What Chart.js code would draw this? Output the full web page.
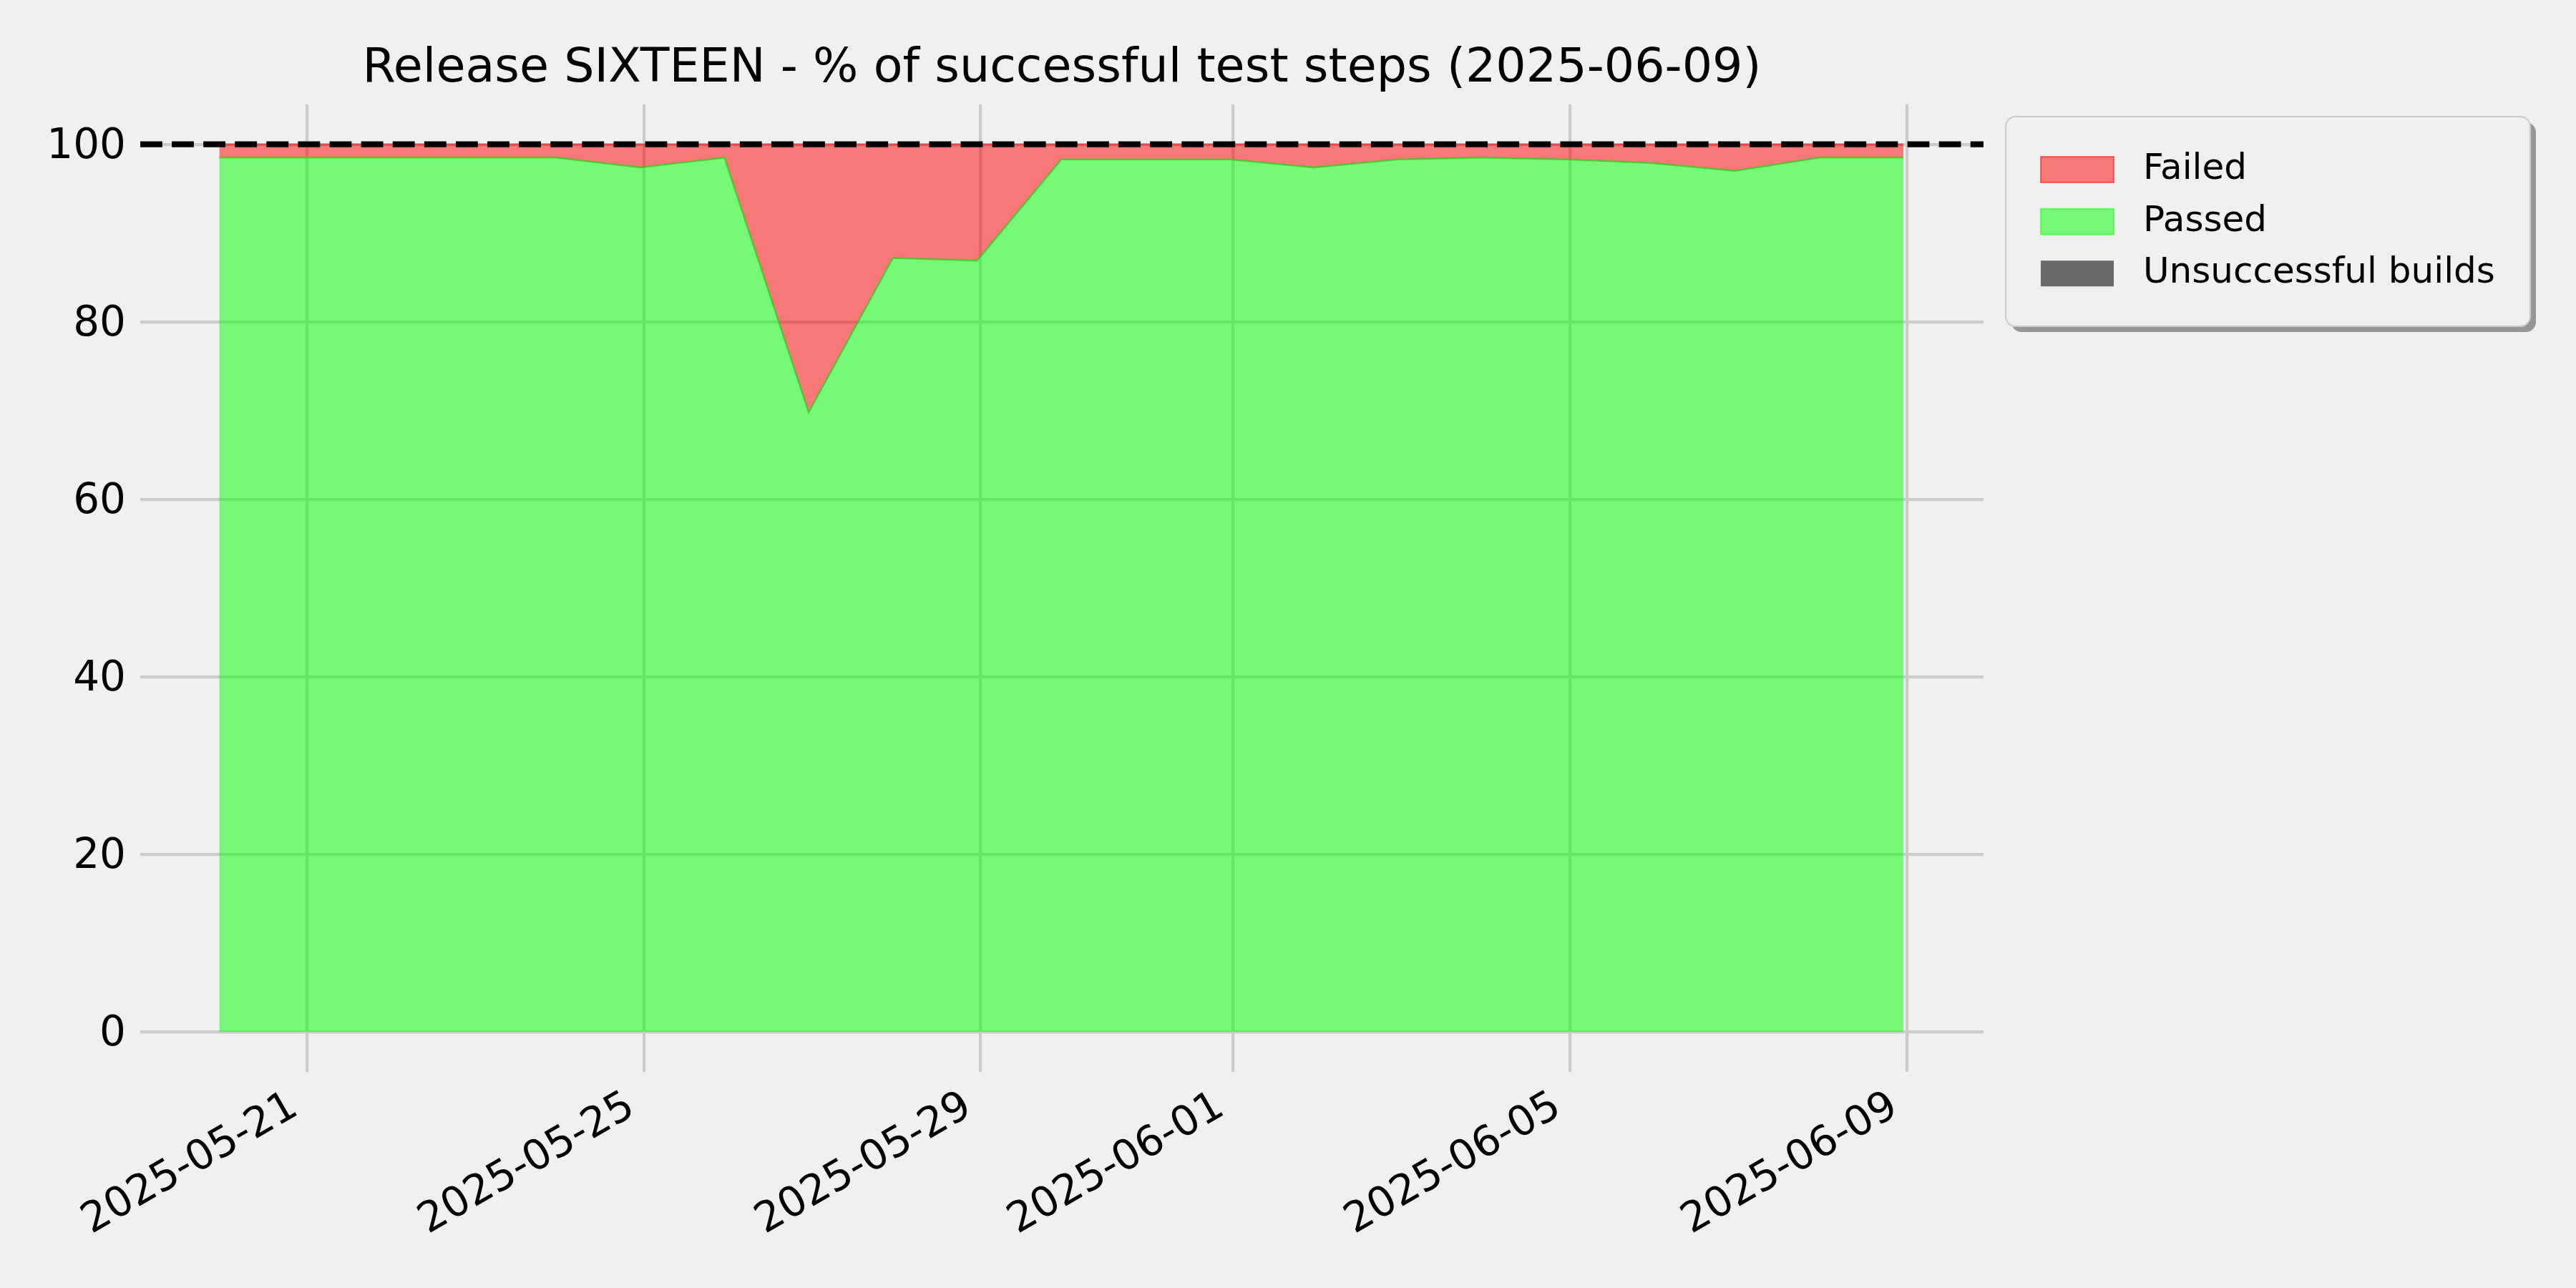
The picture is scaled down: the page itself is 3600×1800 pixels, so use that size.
<!DOCTYPE html>
<html>
<head>
<meta charset="utf-8">
<script src="https://cdn.jsdelivr.net/npm/chart.js@4.4.1/dist/chart.umd.min.js"></script>
<style>
  html, body { margin: 0; padding: 0; background: #f0f0f0; }
  canvas { display: block; }
</style>
</head>
<body>
<canvas id="c" width="3600" height="1800"></canvas>
<script>
// ---------------- data ----------------
const chartTitle = 'Release SIXTEEN - % of successful test steps (2025-06-09)';
// nightly runs (timestamps: points sit just before midnight)
const dates = [
  '2025-05-19T23:00', '2025-05-20T23:00', '2025-05-21T23:00', '2025-05-22T23:00',
  '2025-05-23T23:00', '2025-05-24T23:00', '2025-05-25T23:00', '2025-05-26T23:00',
  '2025-05-27T23:00', '2025-05-28T23:00', '2025-05-29T23:00', '2025-05-30T23:00',
  '2025-05-31T23:00', '2025-06-01T23:00', '2025-06-02T23:00', '2025-06-03T23:00',
  '2025-06-04T23:00', '2025-06-05T23:00', '2025-06-06T23:00', '2025-06-07T23:00',
  '2025-06-08T23:00'
];
const passed = [
  98.5, 98.5, 98.5, 98.5, 98.5, 97.4,
  98.5, 69.8, 87.2, 86.9, 98.3, 98.3,
  98.3, 97.4, 98.3, 98.5, 98.3, 97.9,
  97.0, 98.5, 98.5
];
const failed = [
  1.5, 1.5, 1.5, 1.5, 1.5, 2.6,
  1.5, 30.2, 12.8, 13.1, 1.7, 1.7,
  1.7, 2.6, 1.7, 1.5, 1.7, 2.1,
  3.0, 1.5, 1.5
];
const unsuccessfulBuilds = [
  0, 0, 0, 0, 0, 0,
  0, 0, 0, 0, 0, 0,
  0, 0, 0, 0, 0, 0,
  0, 0, 0
];
const targetPercent = 100;
const xTickLabels = ['2025-05-21', '2025-05-25', '2025-05-29', '2025-06-01', '2025-06-05', '2025-06-09'];
const yTickValues = [0, 20, 40, 60, 80, 100];
const legendOrder = ['Failed', 'Passed', 'Unsuccessful builds'];

// ---------------- helpers ----------------
const DAY = 86400000;
const dayNum = s => {
  const h = s.length > 10 ? +s.slice(11, 13) : 0;
  const m = s.length > 10 ? +s.slice(14, 16) : 0;
  return Date.UTC(+s.slice(0, 4), +s.slice(5, 7) - 1, +s.slice(8, 10), h, m) / DAY;
};
const dayStr = v => new Date(Math.round(v) * DAY).toISOString().slice(0, 10);
const toPoints = arr => dates.map((d, i) => ({ x: dayNum(d), y: arr[i] }));

const X_MIN = dayNum('2025-05-19') + 0.02;
const X_MAX = dayNum('2025-06-09') + 0.91;

Chart.defaults.font.family = "'DejaVu Sans'";
Chart.defaults.color = '#000';

// ---------------- plugins ----------------
const LEGEND_FRAME = { x: 2803, y: 163, w: 733, h: 293, r: 14 };
const LEGEND_POS = { left: 2829.4, top: 189.5, width: 730 };

const backgroundAndFrame = {
  id: 'backgroundAndFrame',
  beforeDraw(chart) {
    const ctx = chart.ctx;
    ctx.save();
    ctx.fillStyle = '#f0f0f0';
    ctx.fillRect(0, 0, chart.width, chart.height);
    const f = LEGEND_FRAME;
    // shadow
    ctx.fillStyle = '#979797';
    ctx.beginPath();
    ctx.roundRect(f.x + 8, f.y + 8, f.w, f.h, f.r);
    ctx.fill();
    // frame
    ctx.fillStyle = '#f0f0f0';
    ctx.strokeStyle = '#cccccc';
    ctx.lineWidth = 2.1;
    ctx.beginPath();
    ctx.roundRect(f.x, f.y, f.w, f.h, f.r);
    ctx.fill();
    ctx.stroke();
    ctx.restore();
  }
};

const legendPlacer = {
  id: 'legendPlacer',
  afterLayout(chart) {
    const lg = chart.legend;
    if (!lg) return;
    const h = lg.height;
    lg.left = LEGEND_POS.left;
    lg.width = LEGEND_POS.width;
    lg.right = lg.left + lg.width;
    lg.top = LEGEND_POS.top;
    lg.bottom = lg.top + h;
  }
};

// ---------------- chart ----------------
new Chart(document.getElementById('c'), {
  type: 'line',
  data: {
    datasets: [
      {
        label: 'Passed',
        type: 'line',
        data: toPoints(passed),
        backgroundColor: 'rgba(0,255,0,0.5)',
        borderColor: 'rgba(50,200,30,0.75)',
        borderWidth: 2.5,
        fill: 'origin',
        pointRadius: 0,
        tension: 0
      },
      {
        label: 'Failed',
        type: 'line',
        data: toPoints(failed),
        backgroundColor: 'rgba(255,0,0,0.5)',
        borderColor: 'rgba(255,0,0,0.5)',
        borderWidth: 2.5,
        fill: '-1',
        pointRadius: 0,
        tension: 0
      },
      {
        label: 'Unsuccessful builds',
        type: 'bar',
        data: toPoints(unsuccessfulBuilds),
        backgroundColor: '#696969',
        borderWidth: 0,
        inflateAmount: 0,
        stack: 'builds'
      },
      {
        label: 'target',
        type: 'line',
        data: [{ x: X_MIN, y: targetPercent }, { x: X_MAX, y: targetPercent }],
        borderColor: '#000000',
        borderWidth: 8.3,
        borderDash: [30.8, 13.3],
        borderCapStyle: 'butt',
        pointRadius: 0,
        fill: false,
        stack: 'ref',
        order: -1
      }
    ]
  },
  options: {
    responsive: false,
    devicePixelRatio: 1,
    animation: false,
    events: [],
    layout: { padding: { left: 0, right: 228, top: 0, bottom: 0 } },
    scales: {
      x: {
        type: 'linear',
        min: X_MIN,
        max: X_MAX,
        offset: false,
        grid: { color: '#cbcbcb', lineWidth: 4.17, drawTicks: false, offset: false },
        border: { display: false },
        ticks: {
          autoSkip: false,
          minRotation: 30,
          maxRotation: 30,
          labelOffset: -17,
          padding: 15,
          color: '#000',
          font: { size: 58 },
          callback: v => dayStr(v)
        },
        afterBuildTicks: s => { s.ticks = xTickLabels.map(d => ({ value: dayNum(d) })); },
        afterFit: s => { s.height = 302.3; }
      },
      y: {
        type: 'linear',
        stacked: true,
        min: -4.5,
        max: 104.5,
        grid: { color: '#cbcbcb', lineWidth: 4.17, drawTicks: false },
        border: { display: false },
        ticks: {
          padding: 20,
          labelOffset: 4,
          color: '#000',
          font: { size: 58 },
          callback: v => String(v)
        },
        afterBuildTicks: s => { s.ticks = yTickValues.map(v => ({ value: v })); },
        afterFit: s => { s.width = 196; }
      }
    },
    plugins: {
      title: {
        display: true,
        text: chartTitle,
        fullSize: false,
        color: '#000',
        font: { size: 66.7, weight: 'normal' },
        padding: { top: 57, bottom: 8.8 }
      },
      legend: {
        display: true,
        position: 'right',
        align: 'start',
        maxWidth: 600,
        labels: {
          boxWidth: 102,
          boxHeight: 36,
          padding: 22.6,
          color: '#000',
          font: { size: 50 },
          generateLabels: chart => {
            const items = Chart.defaults.plugins.legend.labels.generateLabels(chart)
              .filter(it => legendOrder.includes(it.text))
              .sort((a, b) => legendOrder.indexOf(a.text) - legendOrder.indexOf(b.text));
            return items.map(it => {
              const ds = chart.data.datasets[it.datasetIndex];
              if (ds.type === 'line') {
                it.strokeStyle = ds.backgroundColor;
                it.lineWidth = 2;
              } else {
                it.lineWidth = 0;
              }
              it.lineDash = [];
              it.text = ' ' + it.text;
              return it;
            });
          }
        }
      },
      tooltip: { enabled: false }
    }
  },
  plugins: [backgroundAndFrame, legendPlacer]
});
</script>
</body>
</html>
